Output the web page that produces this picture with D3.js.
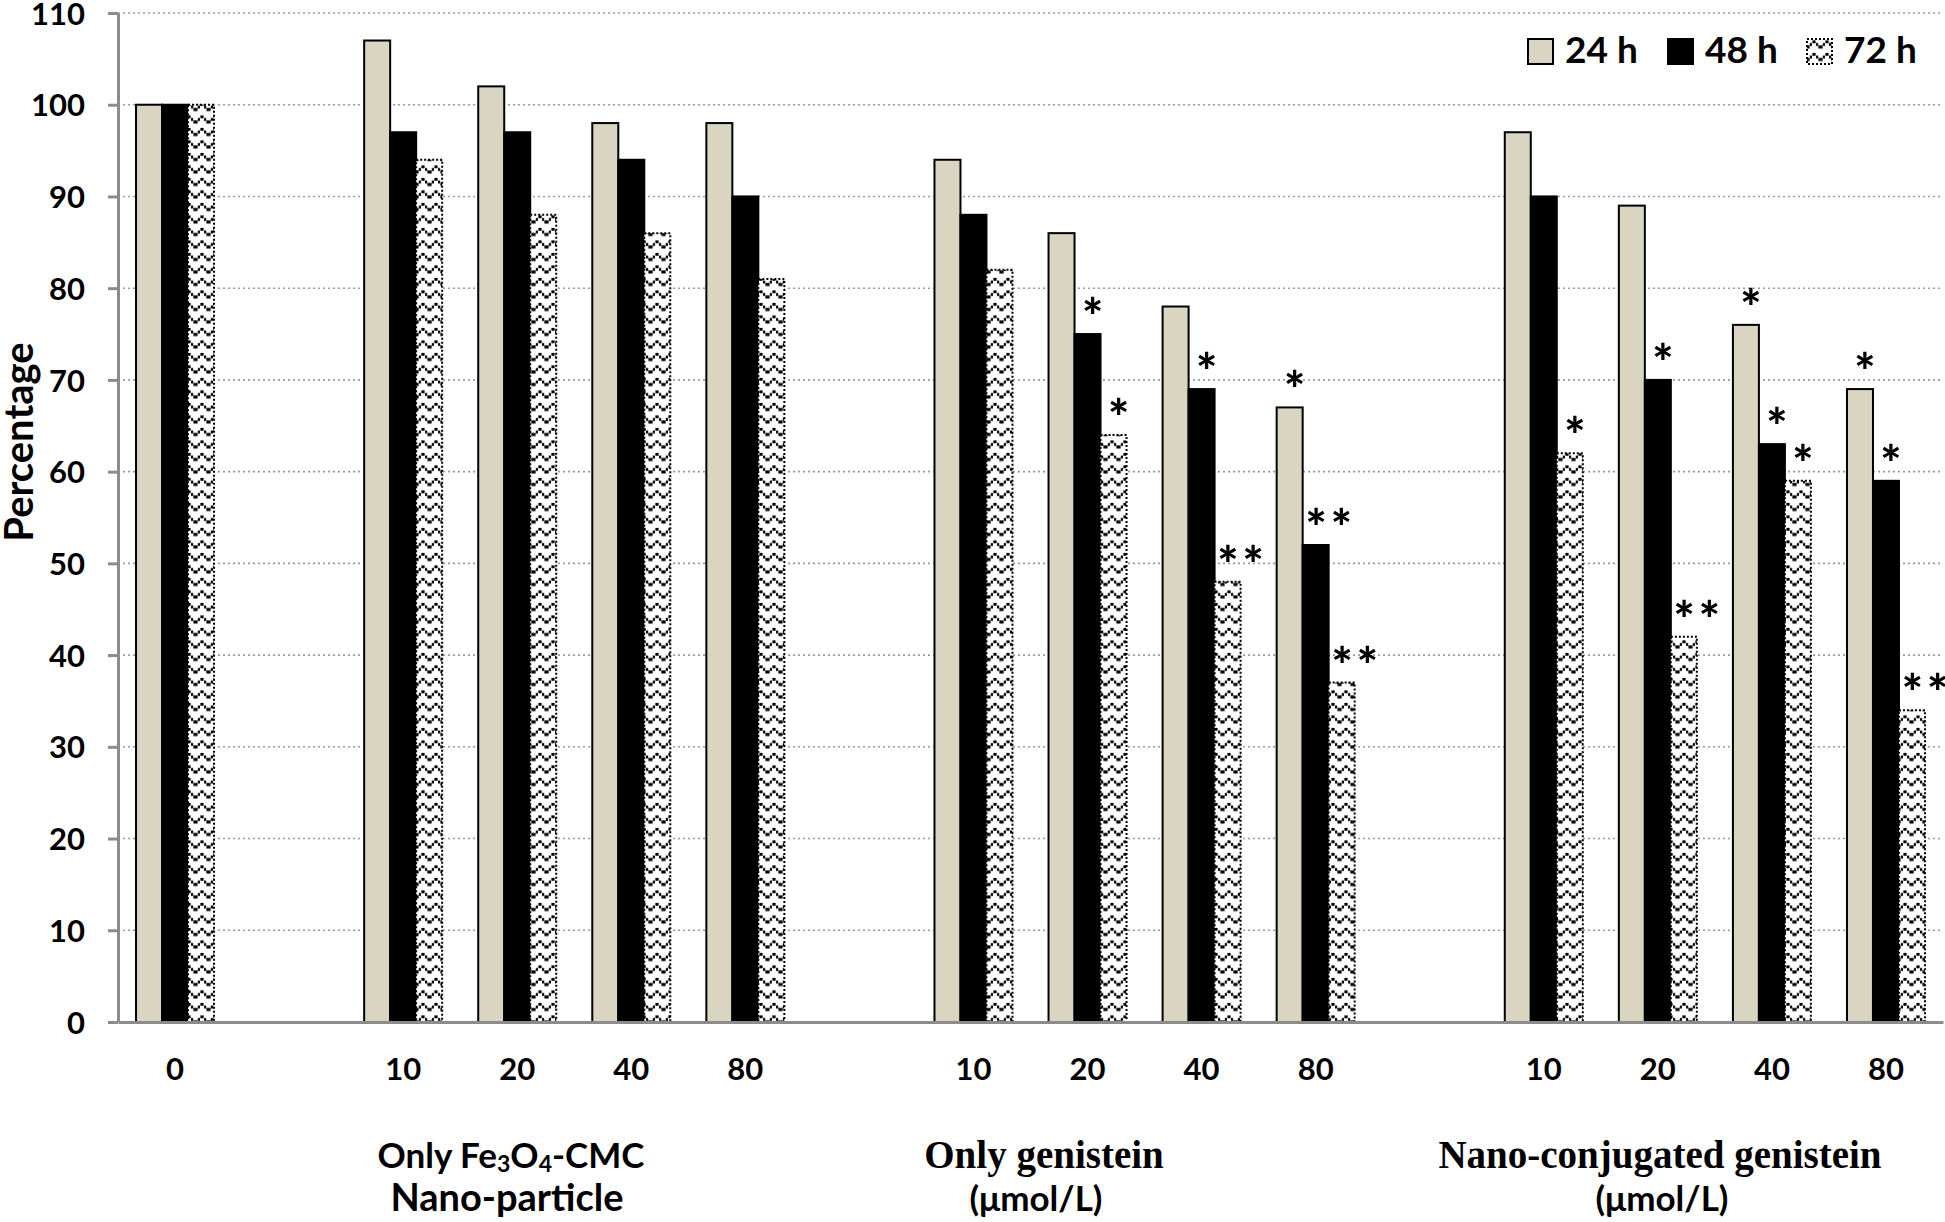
<!DOCTYPE html>
<html><head><meta charset="utf-8">
<script src="https://cdn.jsdelivr.net/npm/d3@7"></script>
<style>body{margin:0;background:#fff} svg{display:block}</style>
</head><body>
<svg id="c" width="1945" height="1222"></svg>
<script>
// ---- data ----
const categoryKeys = ["c0","gapA","fe10","fe20","fe40","fe80","gapB","gen10","gen20","gen40","gen80","gapC","nano10","nano20","nano40","nano80"];
const tickLabels  = ["0","","10","20","40","80","","10","20","40","80","","10","20","40","80"];
const seriesNames = ["24 h","48 h","72 h"];
const v24 = [100,null,107,102,98,98,null,94,86,78,67,null,97,89,76,69];
const v48 = [100,null,97,97,94,90,null,88,75,69,52,null,90,70,63,59];
const v72 = [100,null,94,88,86,81,null,82,64,48,37,null,62,42,59,34];
const sig24 = ["","","","","","","","","","","*","","","","*","*"];
const sig48 = ["","","","","","","","","*","*","**","","","*","*","*"];
const sig72 = ["","","","","","","","","*","**","**","","*","**","*","**"];
const yTicks = [0,10,20,30,40,50,60,70,80,90,100,110];
const groupLine1 = ["Only Fe3O4-CMC","Only genistein","Nano-conjugated genistein"];
const groupLine2 = ["Nano-particle","(μmol/L)","(μmol/L)"];
const yTitle = "Percentage";

// ---- layout ----
const line1X = [511,1044,1660], line2X = [507,1036,1662];
const line1Serif = [false,true,true];

const svg = d3.select("#c");
const SANS = "Lato, 'Open Sans', sans-serif";
const SERIF = "'Liberation Serif', 'DejaVu Serif', serif";
const x = d3.scaleBand().domain(categoryKeys).range([118,1943]).padding(0);
const y = d3.scaleLinear().domain([0,110]).range([1022,13]);
const inner = d3.scaleBand().domain(seriesNames).range([-39,39]).padding(0);

const defs = svg.append("defs");
const pat = defs.append("pattern").attr("id","wave").attr("patternUnits","userSpaceOnUse")
  .attr("width",13).attr("height",12.5);
pat.append("rect").attr("width",13).attr("height",12.5).attr("fill","#fff");
pat.append("path").attr("d","M0,9.5 H2.6 M2.8,7 H5 M5.4,4.3 H8.6 M9,7 H11.2 M11.4,9.5 H13")
  .attr("stroke","#000").attr("stroke-width",3).attr("fill","none");
const beige = "#DAD5C1";

// grid
svg.append("g").selectAll("line").data(yTicks.filter(t=>t>0)).join("line")
  .attr("x1",118).attr("x2",1943).attr("y1",d=>y(d)).attr("y2",d=>y(d))
  .attr("stroke","#9a9a9a").attr("stroke-width",1.6).attr("stroke-dasharray","2,3");

// bars
const seriesData = [
  {name:"24 h", vals:v24, sig:sig24},
  {name:"48 h", vals:v48, sig:sig48},
  {name:"72 h", vals:v72, sig:sig72}
];
const fillOf = n => n==="24 h"?beige:(n==="48 h"?"#000":"url(#wave)");
seriesData.forEach(s=>{
  const pts = categoryKeys.map((k,i)=>({k, v:s.vals[i], sig:s.sig[i]})).filter(d=>d.v!=null);
  const g = svg.append("g");
  g.selectAll("rect").data(pts).join("rect")
    .attr("x",d=>x(d.k)+x.bandwidth()/2+inner(s.name))
    .attr("width",inner.bandwidth())
    .attr("y",d=>y(d.v)).attr("height",d=>y(0)-y(d.v))
    .attr("fill",fillOf(s.name))
    .attr("stroke","#000")
    .attr("stroke-width",2)
    .attr("stroke-dasharray",s.name==="72 h"?"2,2":null);
  g.selectAll("text").data(pts.filter(d=>d.sig)).join("text")
    .attr("x",d=>x(d.k)+x.bandwidth()/2+inner(s.name)+inner.bandwidth()/2+(d.sig.length>1?15:5))
    .attr("y",d=>y(d.v)+1)
    .attr("text-anchor","middle")
    .attr("font-family",SANS).attr("font-weight",900).attr("font-size",50)
    .attr("letter-spacing",d=>d.sig.length>1?4:0)
    .text(d=>d.sig);
});

// y axis
const yAxis = d3.axisLeft(y).tickValues(yTicks).tickSize(10).tickSizeOuter(0).tickPadding(23);
const ya = svg.append("g").attr("transform","translate(118,0)").call(yAxis);
ya.select(".domain").attr("stroke","#8c8c8c").attr("stroke-width",3);
ya.selectAll(".tick line").attr("stroke","#8c8c8c").attr("stroke-width",3);
ya.selectAll(".tick text").attr("font-family",SANS).attr("font-weight",700).attr("font-size",31).attr("fill","#000").attr("dy","0.36em");

// x axis
const xAxis = d3.axisBottom(x).tickSize(0).tickSizeOuter(0).tickFormat((k)=>tickLabels[categoryKeys.indexOf(k)]);
const xa = svg.append("g").attr("transform","translate(0,1022)").call(xAxis);
xa.select(".domain").attr("stroke","#8c8c8c").attr("stroke-width",3);
xa.selectAll(".tick text").attr("font-family",SANS).attr("font-weight",700).attr("font-size",31).attr("fill","#000")
  .attr("y",58).attr("dy",0);

// y title
svg.append("text").attr("transform","translate(33,442) rotate(-90)").attr("text-anchor","middle")
  .attr("font-family",SANS).attr("font-weight",700).attr("font-size",40).text(yTitle);

// group labels
groupLine1.forEach((txt,i)=>{
  const t1 = svg.append("text").attr("x",line1X[i]).attr("y",1168).attr("text-anchor","middle")
    .attr("font-family",line1Serif[i]?SERIF:SANS).attr("font-weight",700).attr("font-size",line1Serif[i]?39:35);
  if(txt.includes("Fe3O4")){
    t1.append("tspan").text("Only Fe");
    t1.append("tspan").attr("font-size",23).attr("dy",4).text("3");
    t1.append("tspan").attr("dy",-4).text("O");
    t1.append("tspan").attr("font-size",23).attr("dy",4).text("4");
    t1.append("tspan").attr("dy",-4).text("-CMC");
  } else t1.text(txt);
  svg.append("text").attr("x",line2X[i]).attr("y",1211).attr("text-anchor","middle")
    .attr("font-family",SANS).attr("font-weight",700).attr("font-size",i===0?38:35).text(groupLine2[i]);
});

// legend
const legX = [1528,1668,1807];
seriesNames.forEach((n,i)=>{
  svg.append("rect").attr("x",legX[i]).attr("y",39).attr("width",25).attr("height",25)
    .attr("fill",fillOf(n)).attr("stroke","#000").attr("stroke-width",2)
    .attr("stroke-dasharray",n==="72 h"?"2,2":null);
  svg.append("text").attr("x",legX[i]+37).attr("y",63)
    .attr("font-family",SANS).attr("font-weight",700).attr("font-size",37).text(n);
});
</script>
</body></html>
